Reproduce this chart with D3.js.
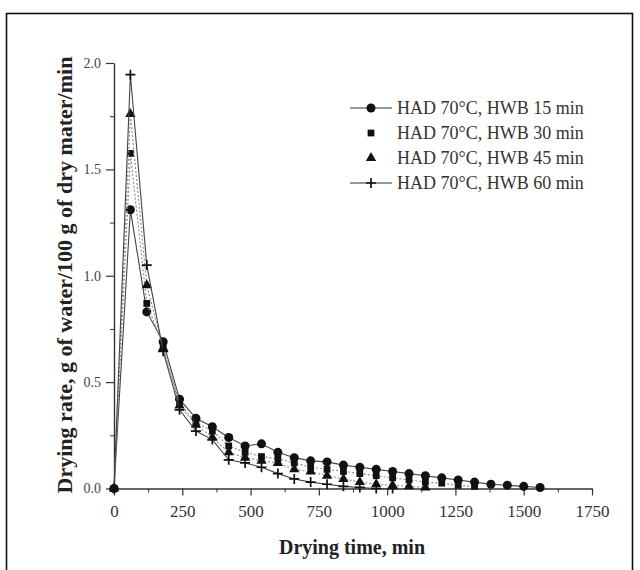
<!DOCTYPE html>
<html>
<head>
<meta charset="utf-8">
<script src="https://cdn.jsdelivr.net/npm/d3@7"></script>
<style>
  body { margin: 0; background: #fff; }
  svg { font-family: "Liberation Serif", "Times New Roman", serif; }
</style>
</head>
<body>
<svg id="chart" width="640" height="570"></svg>
<script>
// drying time, min
const times = [0, 60, 120, 180, 240, 300, 360, 420, 480, 540, 600, 660, 720, 780, 840, 900,
  960, 1020, 1080, 1140, 1200, 1260, 1320, 1380, 1440, 1500, 1560];

// drying rate, g water / 100 g dry matter / min
const hwb15 = [0, 1.31, 0.83, 0.69, 0.42, 0.33, 0.29, 0.24, 0.20, 0.21, 0.17, 0.145, 0.13, 0.125,
  0.11, 0.10, 0.09, 0.08, 0.07, 0.06, 0.05, 0.04, 0.03, 0.02, 0.015, 0.01, 0.005];
const hwb30 = [0, 1.575, 0.87, 0.67, 0.40, 0.31, 0.27, 0.20, 0.17, 0.15, 0.14, 0.12, 0.10, 0.09,
  0.08, 0.07, 0.06, 0.05, 0.04, 0.03, 0.025, 0.015, 0.01];
const hwb45 = [0, 1.76, 0.955, 0.66, 0.39, 0.30, 0.24, 0.17, 0.145, 0.13, 0.12, 0.09, 0.08, 0.06,
  0.045, 0.03, 0.02, 0.015, 0.01, 0.005];
const hwb60 = [0, 1.945, 1.05, 0.645, 0.37, 0.27, 0.23, 0.135, 0.12, 0.10, 0.07, 0.045, 0.03, 0.02,
  0.01, 0.005, 0, 0];

const seriesNames = ["HAD 70°C, HWB 15 min", "HAD 70°C, HWB 30 min",
  "HAD 70°C, HWB 45 min", "HAD 70°C, HWB 60 min"];

const xTicks = [0, 250, 500, 750, 1000, 1250, 1500, 1750];
const yTicks = [0, 0.5, 1.0, 1.5, 2.0];

const svg = d3.select("#chart");

// frame around the figure
svg.append("rect")
  .attr("x", 6.5).attr("y", 13.5)
  .attr("width", 626).attr("height", 600)
  .attr("fill", "none").attr("stroke", "#111").attr("stroke-width", 1.6);

const x = d3.scaleLinear().domain([0, 1750]).range([114, 592]);
const y = d3.scaleLinear().domain([0, 2]).range([488.5, 63]);

const axisColor = "#333";

// minor ticks
svg.append("g")
  .attr("transform", "translate(0,488.5)")
  .call(d3.axisBottom(x).tickValues(d3.range(125, 1750, 250)).tickSize(4).tickFormat(""))
  .call(g => g.select(".domain").remove())
  .selectAll("line").attr("stroke", axisColor);
svg.append("g")
  .attr("transform", "translate(114,0)")
  .call(d3.axisLeft(y).tickValues([0.25, 0.75, 1.25, 1.75]).tickSize(4).tickFormat(""))
  .call(g => g.select(".domain").remove())
  .selectAll("line").attr("stroke", axisColor);

// X axis
const xAxis = svg.append("g")
  .attr("transform", "translate(0,488.5)")
  .call(d3.axisBottom(x).tickValues(xTicks).tickSize(7).tickSizeOuter(0).tickPadding(9)
    .tickFormat(d3.format("d")));
xAxis.select(".domain").attr("stroke", axisColor).attr("stroke-width", 1.4);
xAxis.selectAll(".tick line").attr("stroke", axisColor).attr("stroke-width", 1.2);
xAxis.selectAll("text")
  .style("font-family", "Liberation Serif").style("font-size", "17px").attr("fill", "#333");

// Y axis
const yAxis = svg.append("g")
  .attr("transform", "translate(114,0)")
  .call(d3.axisLeft(y).tickValues(yTicks).tickSize(8).tickSizeOuter(0).tickPadding(5)
    .tickFormat(d3.format(".1f")));
yAxis.select(".domain").attr("stroke", axisColor).attr("stroke-width", 1.4);
yAxis.selectAll(".tick line").attr("stroke", axisColor).attr("stroke-width", 1.2);
yAxis.selectAll("text")
  .style("font-family", "Liberation Serif").style("font-size", "14px").attr("fill", "#444");

// axis titles
svg.append("text")
  .attr("x", 352).attr("y", 554)
  .attr("text-anchor", "middle")
  .style("font-size", "20px").style("font-weight", "bold").attr("fill", "#222")
  .text("Drying time, min");

svg.append("text")
  .attr("transform", "translate(72,275) rotate(-90)")
  .attr("text-anchor", "middle")
  .style("font-size", "22px").style("font-weight", "bold").attr("fill", "#222")
  .text("Drying rate, g of water/100 g of dry mater/min");

// series
const series = [
  { name: seriesNames[0], values: hwb15, symbol: d3.symbolCircle, size: 64, stroke: "#444", dash: null, legendLine: true },
  { name: seriesNames[1], values: hwb30, symbol: d3.symbolSquare, size: 46, stroke: "#888", dash: "2,2", legendLine: false },
  { name: seriesNames[2], values: hwb45, symbol: d3.symbolTriangle, size: 46, stroke: "#888", dash: "2,2", legendLine: false },
  { name: seriesNames[3], values: hwb60, symbol: d3.symbolCross, size: 0, stroke: "#444", dash: null, legendLine: true }
];

const line = d3.line()
  .x(d => x(d[0]))
  .y(d => y(d[1]));

function drawMarker(g, s, px, py) {
  if (s.symbol === d3.symbolCross) {
    g.append("path")
      .attr("d", `M${px - 5},${py}H${px + 5}M${px},${py - 5}V${py + 5}`)
      .attr("stroke", "#111").attr("stroke-width", 1.7);
  } else {
    g.append("path")
      .attr("transform", `translate(${px},${py})`)
      .attr("d", d3.symbol().type(s.symbol).size(s.size)())
      .attr("fill", "#111");
  }
}

series.forEach(s => {
  const pts = s.values.map((v, i) => [times[i], v]);
  svg.append("path")
    .datum(pts)
    .attr("fill", "none")
    .attr("stroke", s.stroke)
    .attr("stroke-width", 1.1)
    .attr("stroke-dasharray", s.dash)
    .attr("d", line);
  const g = svg.append("g");
  pts.forEach(p => drawMarker(g, s, x(p[0]), y(p[1])));
});

// legend
const legend = svg.append("g");
series.forEach((s, i) => {
  const ly = 108 + i * 25;
  if (s.legendLine) {
    legend.append("line")
      .attr("x1", 350).attr("x2", 392).attr("y1", ly).attr("y2", ly)
      .attr("stroke", "#333").attr("stroke-width", 1.1);
  }
  drawMarker(legend, s, 371, ly);
  legend.append("text")
    .attr("x", 397).attr("y", ly)
    .attr("dy", "0.35em")
    .style("font-size", "18px").attr("fill", "#333")
    .text(s.name);
});
</script>
</body>
</html>
